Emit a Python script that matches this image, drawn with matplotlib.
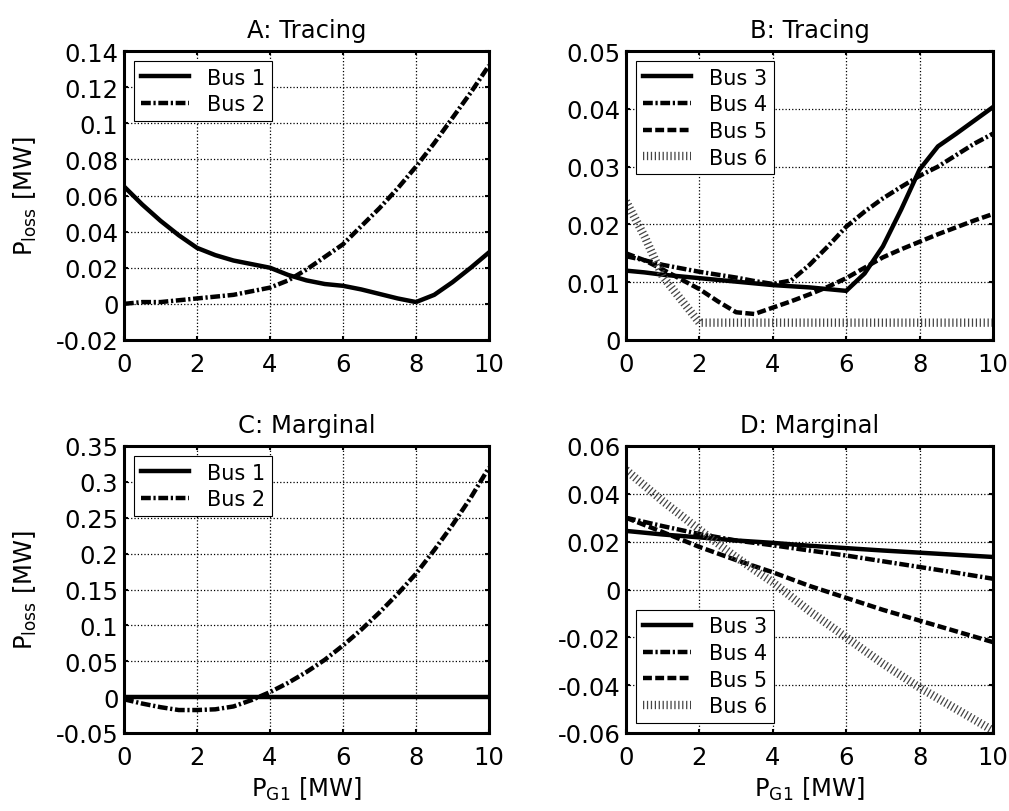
import matplotlib
matplotlib.use('Agg')
import matplotlib.pyplot as plt
from matplotlib.ticker import FuncFormatter

plt.rcParams['font.family'] = ['DejaVu Sans']
plt.rcParams['mathtext.fontset'] = 'dejavusans'

# x grid (P_G1 in MW)
x_half = [0, 0.5, 1, 1.5, 2, 2.5, 3, 3.5, 4, 4.5, 5, 5.5, 6, 6.5, 7, 7.5, 8, 8.5, 9, 9.5, 10]
x_one = [0, 1, 2, 3, 4, 5, 6, 7, 8, 9, 10]

# A: Tracing
a_bus1 = [0.065, 0.055, 0.046, 0.038, 0.031, 0.027, 0.024, 0.022, 0.020, 0.016, 0.013,
          0.011, 0.010, 0.008, 0.0055, 0.003, 0.001, 0.005, 0.012, 0.020, 0.0285]
a_bus2 = [0.0, 0.001, 0.001, 0.002, 0.003, 0.004, 0.005, 0.007, 0.009, 0.013, 0.019,
          0.026, 0.033, 0.043, 0.053, 0.064, 0.076, 0.089, 0.103, 0.117, 0.132]

# B: Tracing
b_bus3 = [0.0120, 0.0117, 0.0113, 0.0110, 0.0107, 0.0104, 0.0101, 0.0098, 0.0095, 0.0093, 0.0091,
          0.0088, 0.0085, 0.0115, 0.0162, 0.0226, 0.0295, 0.0335, 0.0357, 0.0380, 0.0403]
b_bus4 = [0.0145, 0.0138, 0.0130, 0.0124, 0.0118, 0.0113, 0.0108, 0.0102, 0.0097, 0.0103, 0.0130,
          0.0162, 0.0196, 0.0222, 0.0245, 0.0265, 0.0284, 0.0300, 0.0320, 0.0340, 0.0357]
b_bus5 = [0.0150, 0.0138, 0.0122, 0.0105, 0.0088, 0.0067, 0.0048, 0.0045, 0.0056, 0.0067, 0.0079,
          0.0092, 0.0107, 0.0125, 0.0143, 0.0157, 0.0170, 0.0183, 0.0195, 0.0207, 0.0218]
b_bus6 = [0.024, 0.018, 0.011, 0.007, 0.003, 0.003, 0.003, 0.003, 0.003, 0.003, 0.003,
          0.003, 0.003, 0.003, 0.003, 0.003, 0.003, 0.003, 0.003, 0.003, 0.003]

# C: Marginal
c_bus1 = [0.0] * 21
c_bus2 = [-0.003, -0.009, -0.014, -0.018, -0.018, -0.017, -0.013, -0.004, 0.007, 0.020, 0.035,
          0.052, 0.072, 0.094, 0.118, 0.144, 0.172, 0.205, 0.240, 0.278, 0.320]

# D: Marginal
d_bus3 = [0.0245, 0.0230, 0.0218, 0.0205, 0.0195, 0.0183, 0.0173, 0.0163, 0.0154, 0.0145, 0.0136]
d_bus4 = [0.0300, 0.0265, 0.0232, 0.0205, 0.0185, 0.0163, 0.0142, 0.0118, 0.0094, 0.0070, 0.0045]
d_bus5 = [0.0300, 0.0240, 0.0178, 0.0123, 0.0072, 0.0015, -0.0035, -0.0085, -0.0130, -0.0175, -0.0220]
d_bus6 = [0.050, 0.037, 0.025, 0.0135, 0.003, -0.009, -0.020, -0.031, -0.041, -0.050, -0.059]

W, H = 1009, 812
fig = plt.figure(figsize=(W / 100, H / 100), dpi=100)

def box(l, t, r, b):
    return [l / W, 1 - b / H, (r - l) / W, (b - t) / H]

FS = 17.5
LFS = 15
solid = dict(color='black', lw=3.2, linestyle='-')
dashdot = dict(color='black', lw=3.2, linestyle=(0, (2.2, 0.6, 0.5, 0.6)))
dashed = dict(color='black', lw=3.2, linestyle=(0, (2.0, 0.75)))
hatch = dict(color='#444444', lw=6, linestyle=(0, (0.15, 0.32)), dash_capstyle='butt')

def style(ax, ylim, yticks, title):
    ax.set_xlim(0, 10)
    ax.set_ylim(*ylim)
    ax.set_xticks([0, 2, 4, 6, 8, 10])
    ax.set_yticks(yticks)
    ax.yaxis.set_major_formatter(FuncFormatter(lambda v, p: f'{round(v, 4):g}'))
    ax.tick_params(direction='in', top=True, right=True, labelsize=FS, length=3, width=1.5)
    ax.tick_params(axis='x', pad=9)
    ax.tick_params(axis='y', pad=4)
    ax.grid(True, color='black', linestyle=':', linewidth=0.9)
    for s in ax.spines.values():
        s.set_linewidth(2.2)
    ax.set_title(title, fontsize=FS, pad=10)

def legend(ax, loc):
    lg = ax.legend(loc=loc, fontsize=LFS, fancybox=False, edgecolor='black', framealpha=1,
                   handlelength=2.3, borderaxespad=0.5, borderpad=0.3,
                   labelspacing=0.32, handletextpad=0.9)
    lg.get_frame().set_linewidth(0.8)

axA = fig.add_axes(box(124, 52, 489, 341))
axA.plot(x_half, a_bus1, label='Bus 1', **solid)
axA.plot(x_half, a_bus2, label='Bus 2', **dashdot)
style(axA, (-0.02, 0.14), [-0.02, 0, 0.02, 0.04, 0.06, 0.08, 0.1, 0.12, 0.14], 'A: Tracing')
axA.set_ylabel(r'P$_{\mathrm{loss}}$ [MW]', fontsize=FS, labelpad=12)
legend(axA, 'upper left')

axB = fig.add_axes(box(626, 52, 993, 341))
axB.plot(x_half, b_bus3, label='Bus 3', **solid)
axB.plot(x_half, b_bus4, label='Bus 4', **dashdot)
axB.plot(x_half, b_bus5, label='Bus 5', **dashed)
axB.plot(x_half, b_bus6, label='Bus 6', **hatch)
style(axB, (0, 0.05), [0, 0.01, 0.02, 0.03, 0.04, 0.05], 'B: Tracing')
legend(axB, 'upper left')

axC = fig.add_axes(box(124, 447, 489, 734))
axC.plot(x_half, c_bus1, label='Bus 1', **solid)
axC.plot(x_half, c_bus2, label='Bus 2', **dashdot)
style(axC, (-0.05, 0.35), [-0.05, 0, 0.05, 0.1, 0.15, 0.2, 0.25, 0.3, 0.35], 'C: Marginal')
axC.set_ylabel(r'P$_{\mathrm{loss}}$ [MW]', fontsize=FS, labelpad=12)
axC.set_xlabel(r'P$_{\mathrm{G1}}$ [MW]', fontsize=FS, labelpad=4)
legend(axC, 'upper left')

axD = fig.add_axes(box(626, 447, 993, 734))
axD.plot(x_one, d_bus3, label='Bus 3', **solid)
axD.plot(x_one, d_bus4, label='Bus 4', **dashdot)
axD.plot(x_one, d_bus5, label='Bus 5', **dashed)
axD.plot(x_one, d_bus6, label='Bus 6', **hatch)
style(axD, (-0.06, 0.06), [-0.06, -0.04, -0.02, 0, 0.02, 0.04, 0.06], 'D: Marginal')
axD.set_xlabel(r'P$_{\mathrm{G1}}$ [MW]', fontsize=FS, labelpad=4)
legend(axD, 'lower left')

fig.savefig('out.png', dpi=100)
